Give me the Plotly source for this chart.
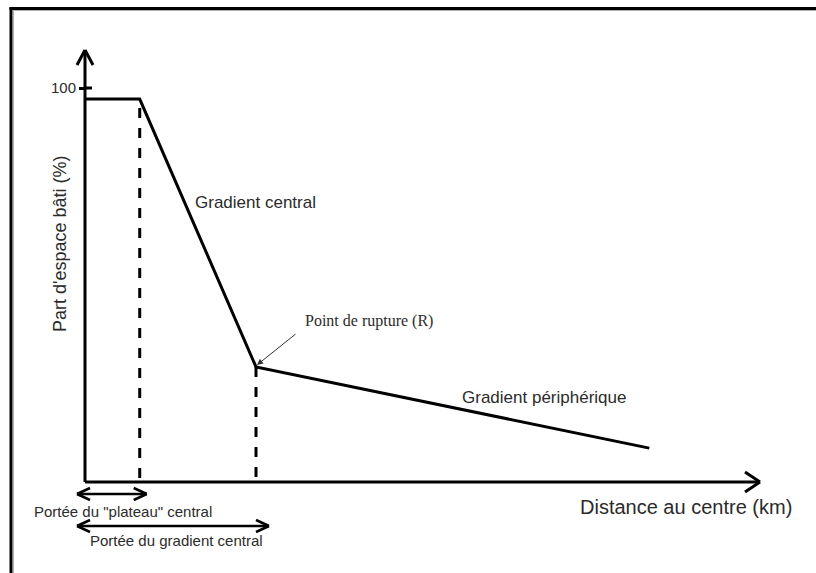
import plotly.graph_objects as go

# Profile of built-up share versus distance to the centre
distance_km = [0.0, 3.2, 10.0, 33.0]
built_share = [97.2, 97.2, 29.2, 8.6]

y_tick_vals = [100]
y_tick_text = ["100"]

W, H = 816, 573
# pixel scale of the axes (px per km, px per %)
KX, KY = 17.1, 3.94
ORIGIN_PX = (85, 482)


def dx(px):
    return px / KX


def dy(px):
    return px / KY


x_range = [-ORIGIN_PX[0] / KX, (W - ORIGIN_PX[0]) / KX]
y_range = [-(H - ORIGIN_PX[1]) / KY, ORIGIN_PX[1] / KY]

INK = "#000000"
TXT = "#2b2b2b"
SANS = "Liberation Sans, Arial, sans-serif"
SERIF = "Liberation Serif, Times New Roman, serif"

fig = go.Figure()

# dashed guides under the plateau end and the break point
plateau_end = distance_km[1]
rupture_x, rupture_y = distance_km[2], built_share[2]
fig.add_trace(go.Scatter(x=[plateau_end, plateau_end], y=[built_share[1] - dy(9), 0],
                         mode="lines", line=dict(color=INK, width=3, dash="10px,10px"),
                         hoverinfo="skip", showlegend=False))
fig.add_trace(go.Scatter(x=[rupture_x, rupture_x], y=[rupture_y, 0],
                         mode="lines", line=dict(color=INK, width=3, dash="10px,10px"),
                         hoverinfo="skip", showlegend=False))

# profile line
fig.add_trace(go.Scatter(x=distance_km, y=built_share, mode="lines",
                         line=dict(color=INK, width=3), showlegend=False,
                         hoverinfo="skip"))

shapes = []


def seg(x0, y0, x1, y1, w=3, color=INK):
    shapes.append(dict(type="line", xref="x", yref="y", x0=x0, y0=y0, x1=x1, y1=y1,
                       line=dict(color=color, width=w)))


# axes with open arrowheads
x_tip = dx(760 - ORIGIN_PX[0])
y_tip = dy(ORIGIN_PX[1] - 50)
seg(0, 0, x_tip, 0)
seg(x_tip - dx(15), dy(10), x_tip, 0)
seg(x_tip - dx(15), -dy(10), x_tip, 0)
seg(0, 0, 0, y_tip)
seg(-dx(8), y_tip - dy(15), 0, y_tip)
seg(dx(8), y_tip - dy(15), 0, y_tip)
# tick crossing the vertical axis at 100
seg(0, y_tick_vals[0], dx(7), y_tick_vals[0])


def double_arrow(xa, xb, y, w=2.5):
    seg(xa, y, xb, y, w)
    for tip, sgn in ((xa, 1), (xb, -1)):
        seg(tip, y, tip + sgn * dx(13), y + dy(6), w)
        seg(tip, y, tip + sgn * dx(13), y - dy(6), w)


double_arrow(-dx(8), plateau_end + dx(7), -dy(12))
double_arrow(-dx(8), rupture_x + dx(13), -dy(44))

# page frame
shapes.append(dict(type="line", xref="paper", yref="paper", x0=11 / W, x1=11 / W,
                   y0=-0.1, y1=1 - 7 / H, line=dict(color=INK, width=3)))
shapes.append(dict(type="line", xref="paper", yref="paper", x0=9.5 / W, x1=1.1,
                   y0=1 - 8.5 / H, y1=1 - 8.5 / H, line=dict(color=INK, width=3)))
shapes.append(dict(type="line", xref="paper", yref="paper", x0=13.5 / W, x1=13.5 / W,
                   y0=-0.1, y1=1 - 10 / H, line=dict(color="#b0b0b0", width=1)))
shapes.append(dict(type="line", xref="paper", yref="paper", x0=13 / W, x1=1.1,
                   y0=1 - 10.5 / H, y1=1 - 10.5 / H, line=dict(color="#b0b0b0", width=1)))

annotations = [
    dict(x=dx(578 - ORIGIN_PX[0]), y=-dy(25), text="Distance au centre (km)",
         xanchor="left", yanchor="middle", font=dict(family=SANS, size=20, color=TXT)),
    dict(x=-dx(25), y=dy(ORIGIN_PX[1] - 244), text="Part d'espace bâti (%)", textangle=-90,
         xanchor="center", yanchor="middle", font=dict(family=SANS, size=18, color=TXT)),
    dict(x=dx(193 - ORIGIN_PX[0]), y=dy(ORIGIN_PX[1] - 202), text="Gradient central",
         xanchor="left", yanchor="middle", font=dict(family=SANS, size=17, color=TXT)),
    dict(x=dx(460 - ORIGIN_PX[0]), y=dy(ORIGIN_PX[1] - 397), text="Gradient périphérique",
         xanchor="left", yanchor="middle", font=dict(family=SANS, size=17, color=TXT)),
    dict(x=dx(303 - ORIGIN_PX[0]), y=dy(ORIGIN_PX[1] - 321), text="Point de rupture (R)",
         xanchor="left", yanchor="middle", font=dict(family=SERIF, size=16, color=TXT)),
    dict(x=dx(123 - ORIGIN_PX[0]), y=-dy(29), text="Portée du \"plateau\" central",
         xanchor="center", yanchor="middle", font=dict(family=SANS, size=15, color=TXT)),
    dict(x=dx(176 - ORIGIN_PX[0]), y=-dy(58), text="Portée du gradient central",
         xanchor="center", yanchor="middle", font=dict(family=SANS, size=15, color=TXT)),
]
for a in annotations:
    a.update(xref="x", yref="y", showarrow=False)

# pointer to the break point
annotations.append(dict(x=rupture_x + dx(1), y=rupture_y + dy(2), xref="x", yref="y",
                        ax=rupture_x + dx(41), ay=rupture_y + dy(34), axref="x", ayref="y",
                        text="", showarrow=True, arrowhead=2, arrowsize=1.2,
                        arrowwidth=1, arrowcolor="#333333", standoff=0))

fig.update_layout(
    width=W, height=H, autosize=False,
    margin=dict(l=0, r=0, t=0, b=0),
    paper_bgcolor="white", plot_bgcolor="white",
    shapes=shapes, annotations=annotations,
    xaxis=dict(range=x_range, visible=False, fixedrange=True),
    yaxis=dict(range=y_range, anchor="free", position=ORIGIN_PX[0] / W,
               showline=False, showgrid=False, zeroline=False,
               tickvals=y_tick_vals, ticktext=y_tick_text,
               ticks="outside", ticklen=6, tickwidth=3, tickcolor=INK,
               tickfont=dict(family=SANS, size=15, color=TXT), fixedrange=True),
)

fig.write_html("out.html")
